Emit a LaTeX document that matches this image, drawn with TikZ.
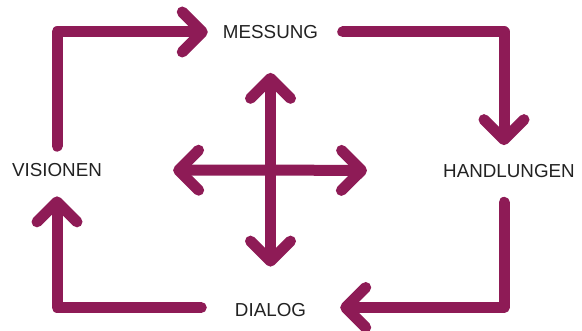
\documentclass[tikz,border=0pt]{standalone}
\usepackage{fontspec}
\setmainfont{Liberation Sans}
\usepackage{xcolor}
\usepackage{tikz}
\usetikzlibrary{arrows.meta,positioning,calc}
\definecolor{cPlum}{HTML}{8E1B56}
\definecolor{cText}{HTML}{222222}
\tikzset{
  lbl/.style  ={font=\fontsize{18.8}{20}\selectfont, text=cText, inner sep=0pt},
  flow/.style ={draw=cPlum, line width=11pt, line cap=round, line join=round,
                -{Straight Barb[length=20pt, width=40pt, round]}},
}

\begin{document}
\begin{tikzpicture}[x=1pt,y=-1pt]
  \useasboundingbox (0,0) rectangle (582,331);
  \node[lbl] (mes)  at (270.5,32)  {MESSUNG};
  \node[lbl] (vis)  at (57,170.5)  {VISIONEN};
  \node[lbl] (hand) at (509,171)   {HANDLUNGEN};
  \node[lbl] (dia)  at (270.5,310.5) {DIALOG};
  \coordinate (hub) at (270.5,170);
  % outer loop
  \draw[flow,shorten <=17.5pt,shorten >=15pt] (vis.north) |- (mes.west);
  \draw[flow,shorten <=24.5pt,shorten >=19pt] (mes.east) -| ([xshift=-5pt]hand.north);
  \draw[flow,shorten <=24.5pt,shorten >=34pt] ([xshift=-5pt]hand.south) |- ([yshift=3pt]dia.east);
  \draw[flow,shorten <=33.5pt,shorten >=19pt] ([yshift=3pt]dia.west) -| (vis.south);
  % cross in the middle
  \draw[flow,shorten >=34pt] (hub) -- (mes.south);
  \draw[flow,shorten >=71pt] (hub) -- (vis.east);
  \draw[flow,shorten >=76pt] (hub) -- (hand.west);
  \draw[flow,shorten >=37pt] (hub) -- (dia.north);
\end{tikzpicture}
\end{document}
